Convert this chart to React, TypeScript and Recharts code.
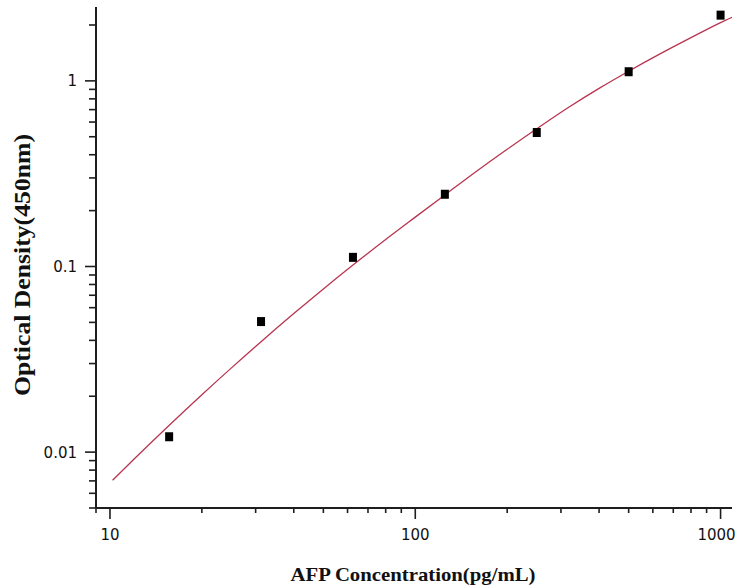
import React from 'react';
import { ComposedChart, Line, Scatter, XAxis, YAxis } from 'recharts';

// Standards (pg/mL) and measured OD values
const concentrations = [15.625, 31.25, 62.5, 125, 250, 500, 1000];
const odValues = [0.0121, 0.0505, 0.112, 0.245, 0.527, 1.12, 2.26];

// Fitted curve
const curveX = [10.2, 12, 15, 20, 25, 31.25, 40, 50, 62.5, 80, 100, 125, 160, 200, 250, 320, 400, 500, 640, 800, 1000, 1090];
const curveY = [0.00705, 0.00918, 0.01308, 0.02038, 0.02844, 0.03936, 0.05575, 0.0757, 0.1018, 0.1398, 0.1845, 0.243, 0.329, 0.428, 0.552, 0.725, 0.911, 1.127, 1.41, 1.71, 2.06, 2.2];

const xTicks = [9, 10, 20, 30, 40, 50, 60, 70, 80, 90, 100, 200, 300, 400, 500, 600, 700, 800, 900, 1000];
const xMajor = [10, 100, 1000];
const xTickLabels = ['10', '100', '1000'];

const yTicks = [0.005, 0.006, 0.007, 0.008, 0.009, 0.01, 0.02, 0.03, 0.04, 0.05, 0.06, 0.07, 0.08, 0.09, 0.1, 0.2, 0.3, 0.4, 0.5, 0.6, 0.7, 0.8, 0.9, 1, 2];
const yMajor = [0.01, 0.1, 1];
const yTickLabels = ['0.01', '0.1', '1'];

const xTitle = 'AFP Concentration(pg/mL)';
const yTitle = 'Optical Density(450nm)';

const points = concentrations.map((x, i) => ({ x, y: odValues[i] }));
const curve = curveX.map((x, i) => ({ x, y: curveY[i] }));

const AXIS = '#1e1e1e';
const TICK_FONT = '"DejaVu Sans", sans-serif';

const XTick = (props: any) => {
  const { x, y, payload } = props;
  const i = xMajor.indexOf(payload.value);
  const major = i >= 0;
  const last = i === xMajor.length - 1;
  return (
    <g>
      <line x1={x} x2={x} y1={y} y2={y + (major ? 11 : 5)} stroke={AXIS} strokeWidth={1.6} />
      {major && (
        <text
          x={last ? x + 15 : x}
          y={y + 32}
          textAnchor={last ? 'end' : 'middle'}
          fontFamily={TICK_FONT}
          fontSize={15}
          fill="#111"
        >
          {xTickLabels[i]}
        </text>
      )}
    </g>
  );
};

const YTick = (props: any) => {
  const { x, y, payload } = props;
  const i = yMajor.indexOf(payload.value);
  const major = i >= 0;
  return (
    <g>
      <line x1={x - (major ? 11 : 7)} x2={x} y1={y} y2={y} stroke={AXIS} strokeWidth={1.6} />
      {major && (
        <text x={x - 19} y={y + 5.5} textAnchor="end" fontFamily={TICK_FONT} fontSize={15} fill="#111">
          {yTickLabels[i]}
        </text>
      )}
    </g>
  );
};

const Square = (props: any) => {
  const { cx, cy } = props;
  return <rect x={cx - 4} y={cy - 4.5} width={8} height={9} fill="#000" />;
};

export default function App() {
  return (
    <div style={{ position: 'absolute', left: 0, top: 0, width: 738, height: 587, background: '#fff' }}>
      <ComposedChart width={738} height={587} margin={{ top: 7, right: 6, left: 0, bottom: 0 }}>
        <XAxis
          type="number"
          dataKey="x"
          scale="log"
          domain={[9, 1090]}
          allowDataOverflow
          ticks={xTicks}
          interval={0}
          tick={<XTick />}
          tickLine={false}
          tickSize={0}
          tickMargin={0}
          height={79}
          axisLine={{ stroke: AXIS, strokeWidth: 2 }}
        />
        <YAxis
          type="number"
          dataKey="y"
          scale="log"
          domain={[0.005, 2.5]}
          allowDataOverflow
          ticks={yTicks}
          interval={0}
          tick={<YTick />}
          tickLine={false}
          tickSize={0}
          tickMargin={0}
          width={96}
          axisLine={{ stroke: AXIS, strokeWidth: 2 }}
        />
        <Line
          data={curve}
          dataKey="y"
          type="monotone"
          dot={false}
          stroke="#b8344f"
          strokeWidth={1.3}
          isAnimationActive={false}
        />
        <Scatter data={points} dataKey="y" shape={<Square />} isAnimationActive={false} />
      </ComposedChart>
      <svg width={738} height={587} style={{ position: 'absolute', left: 0, top: 0, pointerEvents: 'none' }}>
        <text
          x={413}
          y={581}
          textAnchor="middle"
          textLength={245}
          lengthAdjust="spacingAndGlyphs"
          fontFamily='"Liberation Serif", "Times New Roman", serif'
          fontWeight="bold"
          fontSize={19}
          fill="#111"
        >
          {xTitle}
        </text>
        <text
          transform="translate(30 265) rotate(-90)"
          textAnchor="middle"
          textLength={262}
          lengthAdjust="spacingAndGlyphs"
          fontFamily='"Liberation Serif", "Times New Roman", serif'
          fontWeight="bold"
          fontSize={23}
          fill="#111"
        >
          {yTitle}
        </text>
      </svg>
    </div>
  );
}
